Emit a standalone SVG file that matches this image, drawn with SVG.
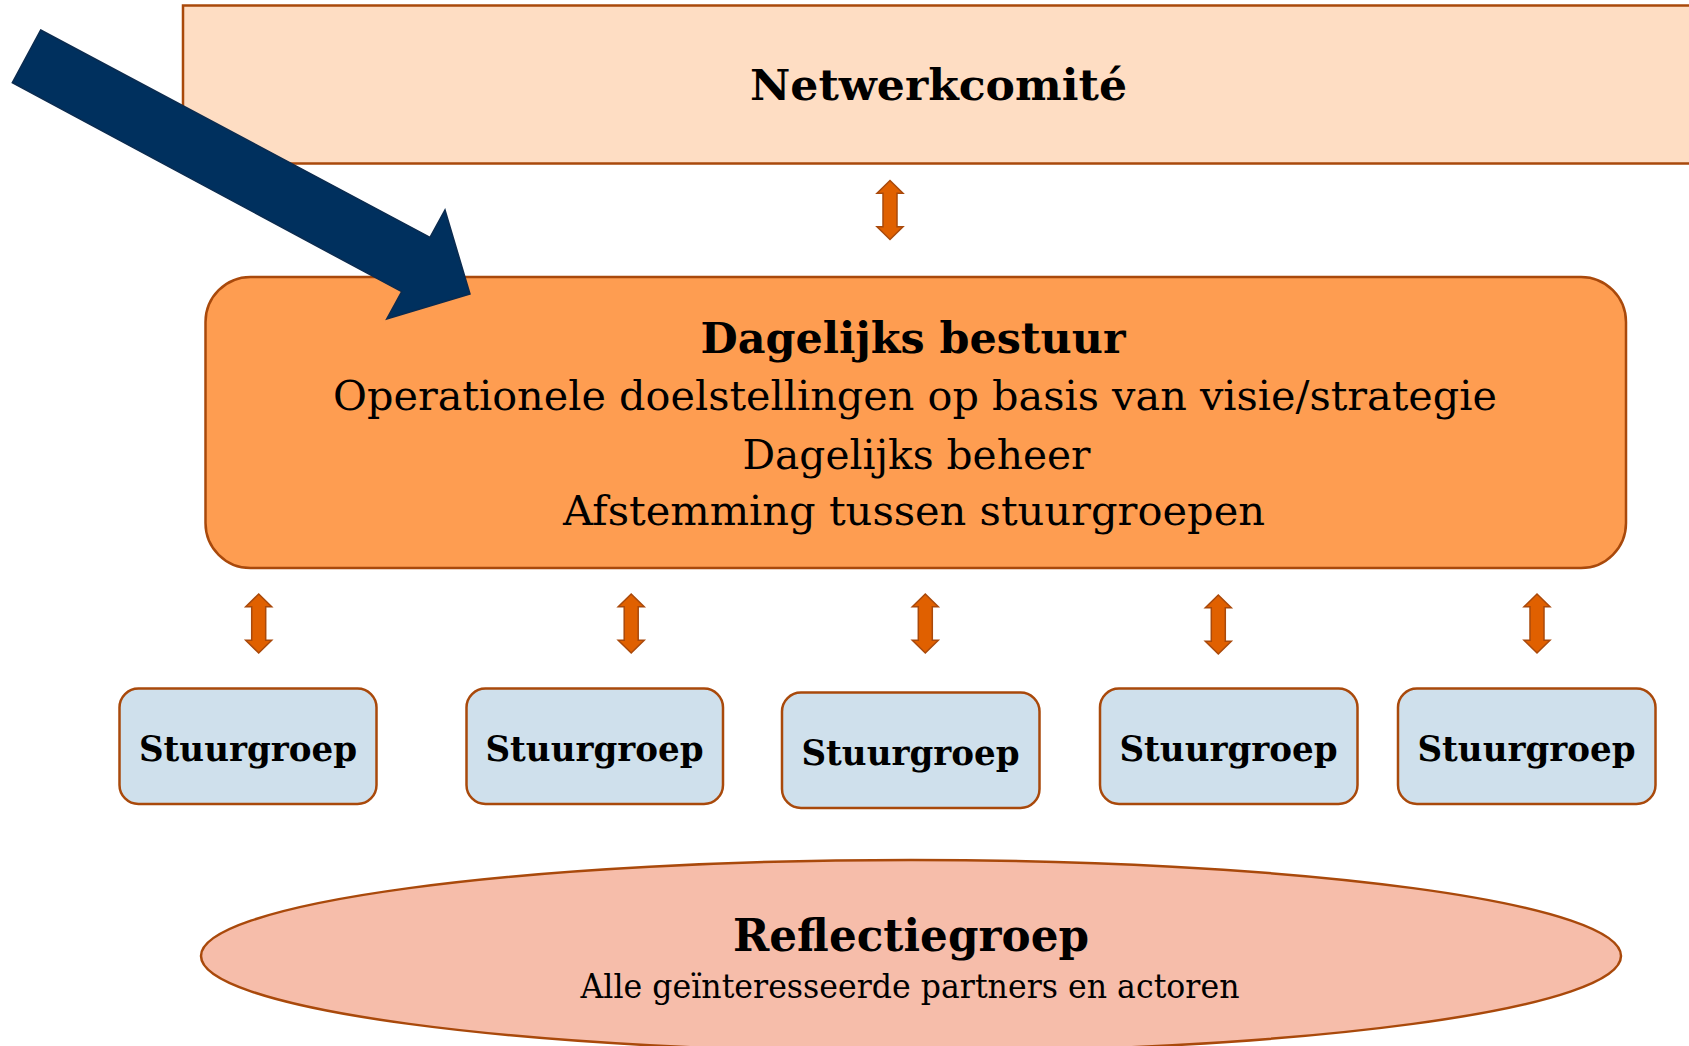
<svg xmlns="http://www.w3.org/2000/svg" xmlns:xlink="http://www.w3.org/1999/xlink" width="1689" height="1046" viewBox="0 0 1689 1046">
<style>
.box{stroke:#A9490B;stroke-width:2.5}
.b{font-family:"DejaVu Serif","Liberation Serif",serif;font-weight:bold;fill:#000;text-anchor:middle}
.r{font-family:"DejaVu Serif","Liberation Serif",serif;fill:#000;text-anchor:middle}
.sg{fill:#CFE0EC}
</style>
<defs>
<path id="dbl" d="M0,-29.5 L13,-16.8 L7,-16.8 L7,16.8 L13,16.8 L0,29.5 L-13,16.8 L-7,16.8 L-7,-16.8 L-13,-16.8 Z" fill="#E06000" stroke="#A9490B" stroke-width="1.5" stroke-linejoin="miter"/>
</defs>
<rect width="1689" height="1046" fill="#FFFFFF"/>

<g id="netwerkcomite">
<rect class="box" x="183" y="5.5" width="1520" height="158" fill="#FEDDC3"/>
<text class="b" x="938.5" y="99.5" font-size="42" textLength="377" lengthAdjust="spacingAndGlyphs">Netwerkcomité</text>
</g>

<g id="dagelijks-bestuur">
<rect class="box" x="205.5" y="277" width="1420.5" height="291" rx="45" ry="45" fill="#FE9D51"/>
<text class="b" x="913" y="353" font-size="43" textLength="425" lengthAdjust="spacingAndGlyphs">Dagelijks bestuur</text>
<text class="r" x="915" y="409.5" font-size="41" textLength="1164" lengthAdjust="spacingAndGlyphs">Operationele doelstellingen op basis van visie/strategie</text>
<text class="r" x="916.5" y="468.5" font-size="41" textLength="348" lengthAdjust="spacingAndGlyphs">Dagelijks beheer</text>
<text class="r" x="914" y="524.5" font-size="41" textLength="702" lengthAdjust="spacingAndGlyphs">Afstemming tussen stuurgroepen</text>
</g>

<g id="pointer-arrow">
<polygon points="40.7,30 430,237.3 445,210 470,294 386.7,319 401.7,291.7 12.3,82.7" fill="#00305E" stroke="#0B2B4F" stroke-width="1.5" stroke-linejoin="miter"/>
</g>

<g id="stuurgroep-1">
<rect class="box sg" x="119.5" y="688.5" width="257" height="115.5" rx="19"/>
<text class="b" x="248" y="760.5" font-size="36" textLength="218" lengthAdjust="spacingAndGlyphs">Stuurgroep</text>
</g>
<g id="stuurgroep-2">
<rect class="box sg" x="466.5" y="688.5" width="256.5" height="115.5" rx="19"/>
<text class="b" x="594.5" y="760.5" font-size="36" textLength="218" lengthAdjust="spacingAndGlyphs">Stuurgroep</text>
</g>
<g id="stuurgroep-3">
<rect class="box sg" x="782" y="692.5" width="257.5" height="115.5" rx="19"/>
<text class="b" x="910.5" y="764.5" font-size="36" textLength="218" lengthAdjust="spacingAndGlyphs">Stuurgroep</text>
</g>
<g id="stuurgroep-4">
<rect class="box sg" x="1100" y="688.5" width="257.5" height="115.5" rx="19"/>
<text class="b" x="1228.5" y="760.5" font-size="36" textLength="218" lengthAdjust="spacingAndGlyphs">Stuurgroep</text>
</g>
<g id="stuurgroep-5">
<rect class="box sg" x="1398" y="688.5" width="257.5" height="115.5" rx="19"/>
<text class="b" x="1526.5" y="760.5" font-size="36" textLength="218" lengthAdjust="spacingAndGlyphs">Stuurgroep</text>
</g>

<g id="reflectiegroep">
<ellipse class="box" cx="911" cy="956" rx="710" ry="96" fill="#F6BDAA"/>
<text class="b" x="911" y="951" font-size="45" textLength="356" lengthAdjust="spacingAndGlyphs">Reflectiegroep</text>
<text class="r" x="910" y="998" font-size="33" textLength="659" lengthAdjust="spacingAndGlyphs">Alle geïnteresseerde partners en actoren</text>
</g>

<g id="connectors">
<use xlink:href="#dbl" href="#dbl" transform="translate(890,210)"/>
<use xlink:href="#dbl" href="#dbl" transform="translate(258.7,623.5)"/>
<use xlink:href="#dbl" href="#dbl" transform="translate(631.2,623.5)"/>
<use xlink:href="#dbl" href="#dbl" transform="translate(925.3,623.5)"/>
<use xlink:href="#dbl" href="#dbl" transform="translate(1218.3,624.5)"/>
<use xlink:href="#dbl" href="#dbl" transform="translate(1537,623.5)"/>
</g>
</svg>
